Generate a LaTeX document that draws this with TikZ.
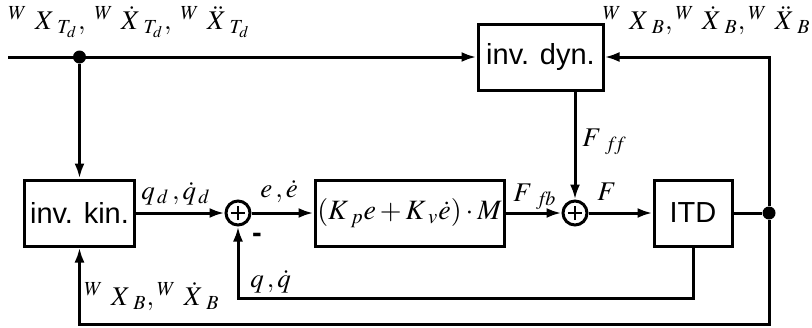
\documentclass[tikz,border=0pt]{standalone}
\usepackage{mathptmx}
\usepackage[no-math]{fontspec}
\setsansfont{Liberation Sans}
\usetikzlibrary{positioning}
\usetikzlibrary{arrows.meta}

\newcommand{\wframe}[2]{{}^{W}\mkern5mu #1{X}_{\mkern6mu #2}}

\begin{document}
\begin{tikzpicture}[x=0.5pt, y=-0.5pt,
        blockbox/.style={draw=black, line width=1.5pt, fill=white, minimum height=33pt, inner sep=0pt, font=\sffamily\fontsize{14.5}{17}\selectfont},
        sumnode/.style={circle, draw=black, line width=1.5pt, minimum size=12pt, inner sep=0pt,
            path picture={\draw[line width=1.3pt] ([xshift=-3.6pt]path picture bounding box.center) -- ([xshift=3.6pt]path picture bounding box.center)
                ([yshift=-3.6pt]path picture bounding box.center) -- ([yshift=3.6pt]path picture bounding box.center);}},
        signal/.style={line width=1.5pt, -{Latex[length=7.5pt,width=5pt]}},
        wire/.style={line width=1.5pt},
        junction/.style={circle, fill=black, minimum size=6.5pt, inner sep=0pt},
        siglabel/.style={font=\fontsize{13.5}{15}\selectfont, inner sep=0pt, anchor=base west},
    ]
    \useasboundingbox (0,0) rectangle (812,327);

    % Blocks
    \node[blockbox, minimum width=62.5pt] (invDyn) at (540.5,57) {inv. dyn.};
    \node[blockbox, minimum width=55pt] (invKin) at (79.5,213) {inv. kin.};
    \node[sumnode] (sumE) at (238,213) {};
    \node[blockbox, minimum width=94.5pt, font=\fontsize{14}{16}\selectfont] (ctrl) at (409.5,213) {$(K_{\mkern4mu p}e+K_{\mkern4mu v}\dot e)\cdot M$};
    \node[sumnode] (sumF) at (575,213) {};
    \node[blockbox, minimum width=39pt] (itd) at (693,213) {ITD};

    % Points
    \coordinate (start) at (8,57);
    \node[junction] (split) at (79.5,57) {};
    \node[junction] (tap) at (769,213) {};
    \coordinate (rightTop) at (769,57);
    \coordinate (rightBottom) at (769,324);
    \coordinate (leftBottom) at (79.5,324);
    \coordinate (fbRight) at (693,298);
    \coordinate (fbLeft) at (238,298);

    % Lines
    \draw[signal] (start) -- (invDyn.west);
    \draw[signal] (split) -- (invKin.north);
    \draw[signal] (invKin) -- (sumE);
    \draw[signal] (sumE) -- (ctrl);
    \draw[signal] (ctrl) -- (sumF);
    \draw[signal] (sumF) -- (itd);
    \draw[signal] (sumF |- invDyn.south) -- (sumF);
    \draw[wire] (itd) -- (tap);
    \draw[signal] (tap) -- (rightTop) -- (invDyn.east);
    \draw[signal] (tap) -- (rightBottom) -- (leftBottom) -- (invKin.south);
    \draw[signal] (itd.south) -- (fbRight) -- (fbLeft) -- (sumE.south);

    % Labels
    \node[siglabel] (lblTarget) at (8,29) {$\wframe{}{T_d},\mkern4mu\wframe{\dot}{T_d},\mkern4mu\wframe{\ddot}{T_d}$};
    \node[siglabel, anchor=base east] (lblBaseTop) at (811,29) {$\wframe{}{B},\wframe{\dot}{B},\wframe{\ddot}{B}$};
    \node[siglabel] (lblBaseBot) at (84,305) {$\wframe{}{B},\wframe{\dot}{B}$};
    \node[siglabel] (lblFff) at (582,146) {$F_{\mkern8mu f\!f}$};
    \node[siglabel] (lblQd) at (141,199) {$q_{\mkern2mu d}\,,\dot q_{\mkern2mu d}$};
    \node[siglabel] (lblE) at (260,197) {$e\,,\dot e$};
    \node[siglabel] (lblFfb) at (513,201) {$F_{\mkern8mu f\!b}$};
    \node[siglabel] (lblF) at (597,200) {$F$};
    \node[siglabel] (lblQ) at (250,287) {$q\,,\dot q$};
    \node[font=\sffamily\bfseries\fontsize{14.5}{17}\selectfont] (minus) at (257,238) {-};
\end{tikzpicture}
\end{document}
